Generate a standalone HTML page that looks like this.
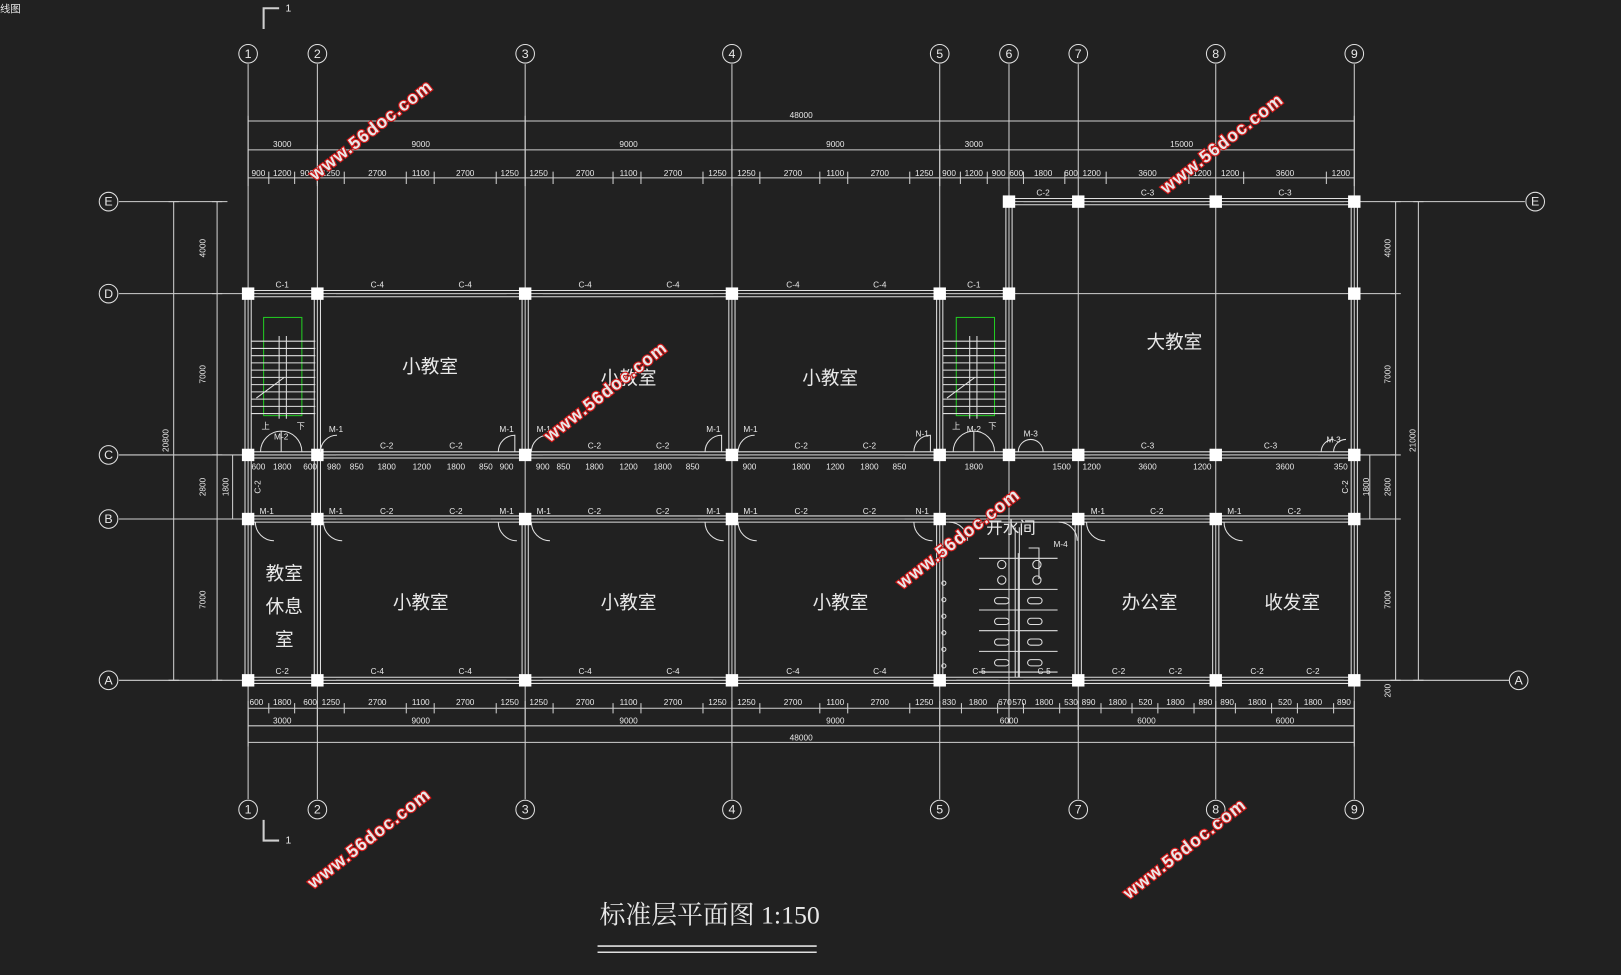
<!DOCTYPE html>
<html><head><meta charset="utf-8"><style>
html,body{margin:0;padding:0;background:#212121;}
svg{display:block}
text{font-family:"Liberation Sans","Noto Sans CJK SC",sans-serif;fill:#e8e8e8}
.d{font-size:8px;text-anchor:middle}
.r{font-size:18px;text-anchor:middle}
.b{font-size:12px;text-anchor:middle}
.wm{font-size:17px;font-weight:bold;fill:#fff;stroke:#d01818;stroke-width:2.2px;paint-order:stroke;letter-spacing:1px}
.l{font-size:8px;text-anchor:middle}
</style></head><body>
<svg width="1621" height="975" viewBox="0 0 1568 943" preserveAspectRatio="none" xmlns="http://www.w3.org/2000/svg">
<rect width="1568" height="943" fill="#212121"/>
<text x="0" y="12" style="font-size:10px">线图</text>
<g stroke="#cfcfcf" stroke-width="1" fill="none">
<!-- grid lines vertical -->
<path d="M240 62V773M307 62V773M508 62V773M708 62V773M909 62V773M976 62V700M1043 62V773M1176 62V773M1310 62V773"/>
<!-- grid lines horizontal -->
<path d="M115 195H220M976 195H1475M115 284H1350M115 440H1350M115 502H1350M115 658H1460"/>
<!-- section marks -->
<path d="M255 28V8H270M255 793V813H270" stroke-width="2"/>
<!-- dimension lines top -->
<path d="M240 117H1310M240 145H1310M240 172H1310"/>
<path d="M240 112V180M307 140V180M508 112V180M708 140V180M909 140V180M976 140V180M1310 112V180"/>
<!-- bottom dims -->
<path d="M240 685H1310M240 702H1310M240 718H1310"/>
<path d="M240 678V722M307 678V706M508 678V706M708 678V722M909 678V706M1043 678V706M1176 678V706M1310 678V722"/>
<!-- left dims -->
<path d="M168 195V658M210 195V658M205 195H215M205 284H215M205 440H215M205 502H215M205 658H215M163 195H173M163 658H173"/>
<path d="M225 440V502"/>
<!-- right dims -->
<path d="M1350 195V658M1372 195V658M1345 195H1355M1345 284H1355M1345 440H1355M1345 502H1355M1345 658H1355M1367 195H1377M1367 658H1377"/>
<path d="M1325 440V502"/>
</g>
<!-- tick marks top detail -->
<g stroke="#cfcfcf" stroke-width="1">
<path d="M260 166V178M285 166V178M307 166V178M333 166V178M393 166V178M420 166V178M480 166V178M535 166V178M593 166V178M620 166V178M680 166V178M735 166V178M793 166V178M820 166V178M880 166V178M929 166V178M955 166V178M990 166V178M1030 166V178M1070 166V178M1150 166V178M1203 166V178M1283 166V178"/>
<path d="M260 680V690M285 680V690M333 680V690M393 680V690M420 680V690M480 680V690M535 680V690M593 680V690M620 680V690M680 680V690M735 680V690M793 680V690M820 680V690M880 680V690M930 680V690M965 680V690M990 680V690M1025 680V690M1065 680V690M1095 680V690M1120 680V690M1155 680V690M1195 680V690M1230 680V690M1255 680V690M1290 680V690"/>
</g>
<!-- walls double lines -->
<g stroke="#e0e0e0" stroke-width="1" fill="none">
<path d="M240 281H976M240 287H976M976 192H1310M976 198H1310M976 281H976"/>
<path d="M240 437H1310M240 443H1310M240 499H1310M240 505H1310M240 655H1310M240 661H1310"/>
<path d="M237 284V658M243 284V658M304 284V658M310 284V658M505 284V440M511 284V440M505 502V658M511 502V658M705 284V440M711 284V440M705 502V658M711 502V658M906 284V440M912 284V440M906 502V658M912 502V658M973 195V440M979 195V440M1307 195V658M1313 195V658"/>
<path d="M1040 502V658M1046 502V658M1173 502V658M1179 502V658M982 510V655M986 510V655"/>
</g>
<!-- window marks -->
<g stroke="#bbb" stroke-width="1">
<path d="M325 284H490M525 284H690M725 284H890M250 284H300M918 284H966M990 195H1036M1055 195H1166M1190 195H1300M325 440H475M525 440H675M725 440H875M1055 440H1166M1190 440H1275M325 502H475M525 502H675M725 502H875M1060 502H1166M1190 502H1300M250 658H300M325 658H490M525 658H690M725 658H890M925 658H966M990 658H1036M1055 658H1166M1190 658H1300"/>
</g>
<!-- columns -->
<g fill="#fff">
<rect x="234" y="278" width="12" height="12"/><rect x="301" y="278" width="12" height="12"/><rect x="502" y="278" width="12" height="12"/><rect x="702" y="278" width="12" height="12"/><rect x="903" y="278" width="12" height="12"/><rect x="970" y="278" width="12" height="12"/><rect x="1304" y="278" width="12" height="12"/>
<rect x="970" y="189" width="12" height="12"/><rect x="1037" y="189" width="12" height="12"/><rect x="1170" y="189" width="12" height="12"/><rect x="1304" y="189" width="12" height="12"/>
<rect x="234" y="434" width="12" height="12"/><rect x="301" y="434" width="12" height="12"/><rect x="502" y="434" width="12" height="12"/><rect x="702" y="434" width="12" height="12"/><rect x="903" y="434" width="12" height="12"/><rect x="970" y="434" width="12" height="12"/><rect x="1037" y="434" width="12" height="12"/><rect x="1170" y="434" width="12" height="12"/><rect x="1304" y="434" width="12" height="12"/>
<rect x="234" y="496" width="12" height="12"/><rect x="301" y="496" width="12" height="12"/><rect x="502" y="496" width="12" height="12"/><rect x="702" y="496" width="12" height="12"/><rect x="903" y="496" width="12" height="12"/><rect x="1037" y="496" width="12" height="12"/><rect x="1170" y="496" width="12" height="12"/><rect x="1304" y="496" width="12" height="12"/>
<rect x="234" y="652" width="12" height="12"/><rect x="301" y="652" width="12" height="12"/><rect x="502" y="652" width="12" height="12"/><rect x="702" y="652" width="12" height="12"/><rect x="903" y="652" width="12" height="12"/><rect x="1037" y="652" width="12" height="12"/><rect x="1170" y="652" width="12" height="12"/><rect x="1304" y="652" width="12" height="12"/>
</g>
<!-- stairs -->
<g stroke="#e0e0e0" fill="none" stroke-width="1">
<rect x="255" y="307" width="37" height="95" stroke="#22cc22"/>
<rect x="925" y="307" width="37" height="95" stroke="#22cc22"/>
<path d="M243 330H305M243 337H305M243 344H305M243 351H305M243 358H305M243 365H305M243 372H305M243 379H305M243 386H305M243 393H305M243 400H305M270 325V405M277 325V405M248 385L275 365"/>
<path d="M912 330H973M912 337H973M912 344H973M912 351H973M912 358H973M912 365H973M912 372H973M912 379H973M912 386H973M912 393H973M912 400H973M938 325V405M945 325V405M916 385L943 365"/>
</g>
<!-- doors arcs -->
<g stroke="#e0e0e0" fill="none" stroke-width="1">
<path d="M252 437A20 20 0 0 1 272 417V437M292 437A20 20 0 0 0 272 417M310 437A16 16 0 0 1 326 421M482 437A16 16 0 0 1 498 421V437M514 437A16 16 0 0 1 530 421M682 437A16 16 0 0 1 698 421V437M714 437A16 16 0 0 1 730 421M884 437A16 16 0 0 1 900 421V437M922 437A20 20 0 0 1 942 417V437M962 437A20 20 0 0 0 942 417M985 437A12 12 0 0 1 997 425M1009 437A12 12 0 0 0 997 425M1278 437A12 12 0 0 1 1290 425M1290 437A12 12 0 0 1 1302 425"/>
<path d="M247 505A18 18 0 0 0 265 523M313 505A18 18 0 0 0 331 523M482 505A18 18 0 0 0 500 523M514 505A18 18 0 0 0 532 523M682 505A18 18 0 0 0 700 523M714 505A18 18 0 0 0 732 523M884 505A18 18 0 0 0 902 523M918 505A18 18 0 0 1 936 523M1051 505A18 18 0 0 0 1069 523M1184 505A18 18 0 0 0 1202 523M1024 505A18 18 0 0 1 1042 523"/>
</g>
<!-- washroom fixtures -->
<g stroke="#e0e0e0" fill="none" stroke-width="1">
<path d="M947 540H1023M947 570H1023M947 590H1023M947 610H1023M947 630H1023M947 650H1023M985 535V655M995 530H1005V560"/>
<ellipse cx="969" cy="546" rx="4" ry="4"/><ellipse cx="1003" cy="546" rx="4" ry="4"/>
<ellipse cx="969" cy="561" rx="4" ry="4"/><ellipse cx="1003" cy="561" rx="4" ry="4"/>
<rect x="962" y="578" width="14" height="6" rx="3"/><rect x="994" y="578" width="14" height="6" rx="3"/>
<rect x="962" y="598" width="14" height="6" rx="3"/><rect x="994" y="598" width="14" height="6" rx="3"/>
<rect x="962" y="618" width="14" height="6" rx="3"/><rect x="994" y="618" width="14" height="6" rx="3"/>
<rect x="962" y="638" width="14" height="6" rx="3"/><rect x="994" y="638" width="14" height="6" rx="3"/>
<circle cx="913" cy="564" r="2"/><circle cx="913" cy="580" r="2"/><circle cx="913" cy="596" r="2"/><circle cx="913" cy="612" r="2"/><circle cx="913" cy="628" r="2"/><circle cx="913" cy="644" r="2"/>
</g>
<!-- axis bubbles -->
<g stroke="#e0e0e0" fill="none">
<circle cx="240" cy="52" r="9"/><circle cx="307" cy="52" r="9"/><circle cx="508" cy="52" r="9"/><circle cx="708" cy="52" r="9"/><circle cx="909" cy="52" r="9"/><circle cx="976" cy="52" r="9"/><circle cx="1043" cy="52" r="9"/><circle cx="1176" cy="52" r="9"/><circle cx="1310" cy="52" r="9"/>
<circle cx="240" cy="783" r="9"/><circle cx="307" cy="783" r="9"/><circle cx="508" cy="783" r="9"/><circle cx="708" cy="783" r="9"/><circle cx="909" cy="783" r="9"/><circle cx="1043" cy="783" r="9"/><circle cx="1176" cy="783" r="9"/><circle cx="1310" cy="783" r="9"/>
<circle cx="105" cy="195" r="9"/><circle cx="105" cy="284" r="9"/><circle cx="105" cy="440" r="9"/><circle cx="105" cy="502" r="9"/><circle cx="105" cy="658" r="9"/>
<circle cx="1485" cy="195" r="9"/><circle cx="1469" cy="658" r="9"/>
</g>
<g class="b">
<text x="240" y="56">1</text><text x="307" y="56">2</text><text x="508" y="56">3</text><text x="708" y="56">4</text><text x="909" y="56">5</text><text x="976" y="56">6</text><text x="1043" y="56">7</text><text x="1176" y="56">8</text><text x="1310" y="56">9</text>
<text x="240" y="787">1</text><text x="307" y="787">2</text><text x="508" y="787">3</text><text x="708" y="787">4</text><text x="909" y="787">5</text><text x="1043" y="787">7</text><text x="1176" y="787">8</text><text x="1310" y="787">9</text>
<text x="105" y="199">E</text><text x="105" y="288">D</text><text x="105" y="444">C</text><text x="105" y="506">B</text><text x="105" y="662">A</text>
<text x="1485" y="199">E</text><text x="1469" y="662">A</text>
<text x="279" y="11" style="font-size:10px">1</text><text x="279" y="816" style="font-size:10px">1</text>
</g>
<!-- dims text -->
<g class="d">
<text x="775" y="114">48000</text>
<text x="273" y="142">3000</text><text x="407" y="142">9000</text><text x="608" y="142">9000</text><text x="808" y="142">9000</text><text x="942" y="142">3000</text><text x="1143" y="142">15000</text>
<text x="250" y="170">900</text><text x="273" y="170">1200</text><text x="297" y="170">900</text><text x="320" y="170">1250</text><text x="365" y="170">2700</text><text x="407" y="170">1100</text><text x="450" y="170">2700</text><text x="493" y="170">1250</text><text x="521" y="170">1250</text><text x="566" y="170">2700</text><text x="608" y="170">1100</text><text x="651" y="170">2700</text><text x="694" y="170">1250</text><text x="722" y="170">1250</text><text x="767" y="170">2700</text><text x="808" y="170">1100</text><text x="851" y="170">2700</text><text x="894" y="170">1250</text><text x="918" y="170">900</text><text x="942" y="170">1200</text><text x="966" y="170">900</text><text x="983" y="170">600</text><text x="1009" y="170">1800</text><text x="1036" y="170">600</text><text x="1056" y="170">1200</text><text x="1110" y="170">3600</text><text x="1163" y="170">1200</text><text x="1190" y="170">1200</text><text x="1243" y="170">3600</text><text x="1297" y="170">1200</text>
<text x="248" y="682">600</text><text x="273" y="682">1800</text><text x="300" y="682">600</text><text x="320" y="682">1250</text><text x="365" y="682">2700</text><text x="407" y="682">1100</text><text x="450" y="682">2700</text><text x="493" y="682">1250</text><text x="521" y="682">1250</text><text x="566" y="682">2700</text><text x="608" y="682">1100</text><text x="651" y="682">2700</text><text x="694" y="682">1250</text><text x="722" y="682">1250</text><text x="767" y="682">2700</text><text x="808" y="682">1100</text><text x="851" y="682">2700</text><text x="894" y="682">1250</text><text x="918" y="682">830</text><text x="946" y="682">1800</text><text x="972" y="682">670</text><text x="986" y="682">570</text><text x="1010" y="682">1800</text><text x="1036" y="682">530</text><text x="1053" y="682">890</text><text x="1081" y="682">1800</text><text x="1108" y="682">520</text><text x="1137" y="682">1800</text><text x="1166" y="682">890</text><text x="1187" y="682">890</text><text x="1216" y="682">1800</text><text x="1243" y="682">520</text><text x="1270" y="682">1800</text><text x="1300" y="682">890</text>
<text x="273" y="700">3000</text><text x="407" y="700">9000</text><text x="608" y="700">9000</text><text x="808" y="700">9000</text><text x="976" y="700">6000</text><text x="1109" y="700">6000</text><text x="1243" y="700">6000</text>
<text x="775" y="716">48000</text>
<text x="250" y="454">600</text><text x="273" y="454">1800</text><text x="300" y="454">600</text><text x="323" y="454">980</text><text x="345" y="454">850</text><text x="374" y="454">1800</text><text x="408" y="454">1200</text><text x="441" y="454">1800</text><text x="470" y="454">850</text><text x="490" y="454">900</text><text x="525" y="454">900</text><text x="545" y="454">850</text><text x="575" y="454">1800</text><text x="608" y="454">1200</text><text x="641" y="454">1800</text><text x="670" y="454">850</text><text x="725" y="454">900</text><text x="775" y="454">1800</text><text x="808" y="454">1200</text><text x="841" y="454">1800</text><text x="870" y="454">850</text><text x="942" y="454">1800</text><text x="1027" y="454">1500</text><text x="1056" y="454">1200</text><text x="1110" y="454">3600</text><text x="1163" y="454">1200</text><text x="1243" y="454">3600</text><text x="1297" y="454">350</text>
</g>
<g class="d">
<text transform="translate(199,240) rotate(-90)">4000</text>
<text transform="translate(199,362) rotate(-90)">7000</text>
<text transform="translate(199,471) rotate(-90)">2800</text>
<text transform="translate(199,580) rotate(-90)">7000</text>
<text transform="translate(163,426) rotate(-90)">20800</text>
<text transform="translate(221,471) rotate(-90)">1800</text>
<text transform="translate(1345,240) rotate(-90)">4000</text>
<text transform="translate(1345,362) rotate(-90)">7000</text>
<text transform="translate(1345,471) rotate(-90)">2800</text>
<text transform="translate(1345,580) rotate(-90)">7000</text>
<text transform="translate(1369,426) rotate(-90)">21000</text>
<text transform="translate(1324,471) rotate(-90)">1800</text>
<text transform="translate(1345,668) rotate(-90)">200</text>
<text transform="translate(252,471) rotate(-90)">C-2</text>
<text transform="translate(1304,471) rotate(-90)">C-2</text>
</g>
<!-- window/door labels -->
<g class="l">
<text x="273" y="278">C-1</text><text x="365" y="278">C-4</text><text x="450" y="278">C-4</text><text x="566" y="278">C-4</text><text x="651" y="278">C-4</text><text x="767" y="278">C-4</text><text x="851" y="278">C-4</text><text x="942" y="278">C-1</text>
<text x="1009" y="189">C-2</text><text x="1110" y="189">C-3</text><text x="1243" y="189">C-3</text>
<text x="272" y="425">M-2</text><text x="325" y="418">M-1</text><text x="374" y="434">C-2</text><text x="441" y="434">C-2</text><text x="490" y="418">M-1</text><text x="526" y="418">M-1</text><text x="575" y="434">C-2</text><text x="641" y="434">C-2</text><text x="690" y="418">M-1</text><text x="726" y="418">M-1</text><text x="775" y="434">C-2</text><text x="841" y="434">C-2</text><text x="892" y="422">N-1</text><text x="942" y="418">M-2</text><text x="997" y="422">M-3</text><text x="1110" y="434">C-3</text><text x="1229" y="434">C-3</text><text x="1290" y="428">M-3</text>
<text x="258" y="497">M-1</text><text x="325" y="497">M-1</text><text x="374" y="497">C-2</text><text x="441" y="497">C-2</text><text x="490" y="497">M-1</text><text x="526" y="497">M-1</text><text x="575" y="497">C-2</text><text x="641" y="497">C-2</text><text x="690" y="497">M-1</text><text x="726" y="497">M-1</text><text x="775" y="497">C-2</text><text x="841" y="497">C-2</text><text x="892" y="497">N-1</text><text x="1062" y="497">M-1</text><text x="1119" y="497">C-2</text><text x="1194" y="497">M-1</text><text x="1252" y="497">C-2</text><text x="1026" y="529">M-4</text>
<text x="273" y="652">C-2</text><text x="365" y="652">C-4</text><text x="450" y="652">C-4</text><text x="566" y="652">C-4</text><text x="651" y="652">C-4</text><text x="767" y="652">C-4</text><text x="851" y="652">C-4</text><text x="947" y="652">C-5</text><text x="1010" y="652">C-5</text><text x="1082" y="652">C-2</text><text x="1137" y="652">C-2</text><text x="1216" y="652">C-2</text><text x="1270" y="652">C-2</text>
<text x="257" y="415">上</text><text x="291" y="415">下</text><text x="925" y="415">上</text><text x="960" y="415">下</text>
</g>
<!-- room labels -->
<g class="r">
<text x="416" y="361">小教室</text><text x="608" y="372">小教室</text><text x="803" y="372">小教室</text><text x="1136" y="337">大教室</text>
<text x="275" y="561">教室</text><text x="275" y="593">休息</text><text x="275" y="625">室</text>
<text x="407" y="589">小教室</text><text x="608" y="589">小教室</text><text x="813" y="589">小教室</text><text x="1112" y="589">办公室</text><text x="1250" y="589">收发室</text>
<text x="978" y="516" style="font-size:16px">开水间</text>
</g>
<!-- title -->
<text x="580" y="893" style="font-size:25px;font-family:'Liberation Serif','Noto Serif CJK SC',serif">标准层平面图  1:150</text>
<path d="M578 915H790M578 921H790" stroke="#e0e0e0" stroke-width="1.5"/>
<!-- watermarks -->
<g class="wm">
<text transform="translate(305,175) rotate(-38)">www.56doc.com</text>
<text transform="translate(1128,188) rotate(-38)">www.56doc.com</text>
<text transform="translate(532,428) rotate(-38)">www.56doc.com</text>
<text transform="translate(873,570) rotate(-38)">www.56doc.com</text>
<text transform="translate(303,860) rotate(-38)">www.56doc.com</text>
<text transform="translate(1092,870) rotate(-38)">www.56doc.com</text>
</g>
</svg>
</body></html>
